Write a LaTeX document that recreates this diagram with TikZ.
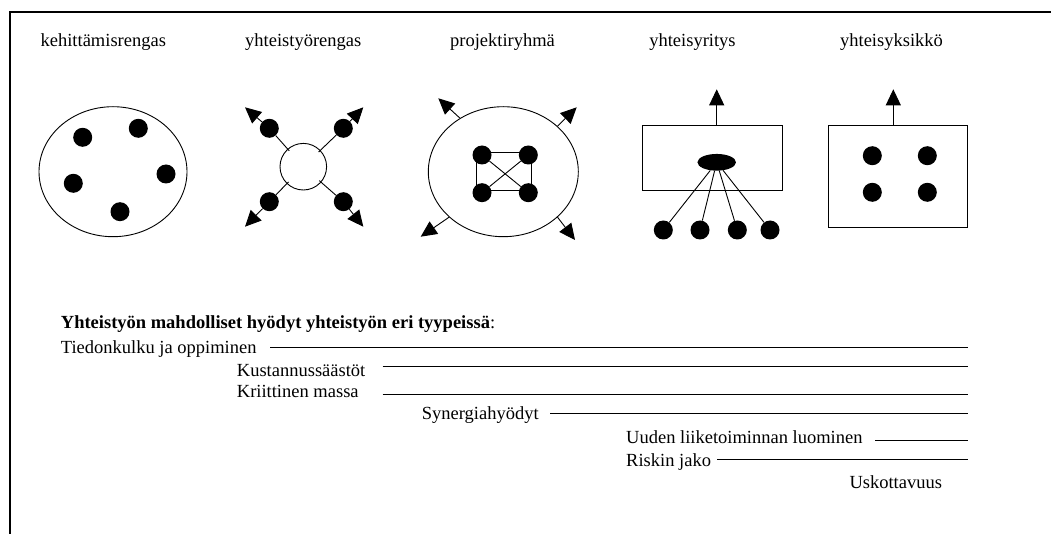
\documentclass[tikz,border=0pt]{standalone}
\usepackage{fontspec}
\setmainfont{Liberation Serif}
\usetikzlibrary{shapes.geometric,arrows.meta}

\begin{document}
\begin{tikzpicture}[x=1pt,y=-1pt,
  outline/.style={draw, line width=0.9pt},
  dot/.style={circle, fill=black, inner sep=0pt, minimum size=19pt},
  arr/.style={line width=0.9pt, -{Triangle[length=16pt,width=15pt]}},
  thin/.style={line width=0.9pt},
  title/.style={anchor=base, inner sep=0pt, font=\fontsize{18.5}{22}\selectfont},
  txt/.style={anchor=base west, inner sep=0pt, font=\fontsize{18.5}{22}\selectfont},
  rule/.style={line width=1.2pt}]
\useasboundingbox (0,0) rectangle (1051,534);

% frame (left and top edges)
\draw[line width=2pt] (9.5,534) -- (9.5,12.5) -- (1051,12.5);

% titles
\node[title] (t1) at (103.3,47) {kehittämisrengas};
\node[title] (t2) at (303.3,47) {yhteistyörengas};
\node[title] (t3) at (502.5,47) {projektiryhmä};
\node[title] (t4) at (692.5,47) {yhteisyritys};
\node[title] (t5) at (891.5,47) {yhteisyksikkö};

% 1: kehittämisrengas
\node[ellipse, outline, minimum width=148pt, minimum height=130pt] (e1) at (113,171.7) {};
\node[dot] (a1) at (82.7,137.3) {};
\node[dot] (a2) at (138.3,128.3) {};
\node[dot] (a3) at (166,174) {};
\node[dot] (a4) at (73.3,183.3) {};
\node[dot] (a5) at (120,211.7) {};

% 2: yhteistyörengas
\node[circle, outline, minimum size=46.6pt, inner sep=0pt] (ring) at (303.3,166.7) {};
\node[dot] (b1) at (269.3,128.3) {};
\node[dot] (b2) at (343.3,128.3) {};
\node[dot] (b3) at (269.3,201.7) {};
\node[dot] (b4) at (343.3,201.7) {};
\coordinate (bt1) at (245,107.3);
\coordinate (bt2) at (363.3,107.3);
\coordinate (bt3) at (245,226.7);
\coordinate (bt4) at (363.3,226.7);
\foreach \i in {1,...,4} {
  \draw[thin, shorten >=-2.5pt] (b\i) -- (ring);
  \draw[arr] (b\i) -- (bt\i);
}

% 3: projektiryhmä
\node[ellipse, outline, minimum width=150pt, minimum height=130pt] (e3) at (503.3,171.7) {};
\draw[thin] (476,152.7) rectangle (531,190);
\node[dot] (c1) at (482,155) {};
\node[dot] (c2) at (528.3,155) {};
\node[dot] (c3) at (482,192.7) {};
\node[dot] (c4) at (528.3,192.7) {};
\draw[thin] (c1) -- (c4);
\draw[thin] (c2) -- (c3);
\coordinate (ct1) at (438.3,98.3);
\coordinate (ct2) at (576.7,107.3);
\coordinate (ct3) at (420.7,236.7);
\coordinate (ct4) at (575,240);
\draw[arr] (e3.129.4) -- (ct1);
\draw[arr] (e3.40.2) -- (ct2);
\draw[arr] (e3.220.3) -- (ct3);
\draw[arr] (e3.320.2) -- (ct4);

% 4: yhteisyritys
\node[rectangle, outline, minimum width=139.6pt, minimum height=65pt, inner sep=0pt] (box4) at (712.5,157.5) {};
\node[ellipse, fill=black, inner sep=0pt, minimum width=38.5pt, minimum height=16.7pt] (oval) at (716.7,162.3) {};
\coordinate (up4) at (716.7,89.3);
\draw[arr] (oval |- box4.north) -- (up4);
\node[dot] (d1) at (663.3,230) {};
\node[dot] (d2) at (700,230) {};
\node[dot] (d3) at (737.3,230) {};
\node[dot] (d4) at (770,230) {};
\foreach \i in {1,...,4} \draw[thin] (oval) -- (d\i);

% 5: yhteisyksikkö
\node[rectangle, outline, minimum width=139.4pt, minimum height=102.3pt, inner sep=0pt] (box5) at (898,176.2) {};
\coordinate (up5) at (893.3,89.3);
\draw[arr] (up5 |- box5.north) -- (up5);
\node[dot] (f1) at (872.3,155.7) {};
\node[dot] (f2) at (927.3,155.7) {};
\node[dot] (f3) at (872.3,192.3) {};
\node[dot] (f4) at (927.3,192.3) {};

% benefits
\node[txt] (head) at (60.7,328.3) {\textbf{Yhteistyön mahdolliset hyödyt yhteistyön eri tyypeissä}:};
\node[txt] (g1) at (60.7,353.3) {Tiedonkulku ja oppiminen};
\node[txt] (g2) at (236.7,376) {Kustannussäästöt};
\node[txt] (g3) at (236.7,397.7) {Kriittinen massa};
\node[txt] (g4) at (421.7,419.5) {Synergiahyödyt};
\node[txt] (g5) at (626,443.3) {Uuden liiketoiminnan luominen};
\node[txt] (g6) at (626,466) {Riskin jako};
\node[txt] (g7) at (849.3,488.3) {Uskottavuus};

\coordinate (s1) at (270,347.5);   \coordinate (r1) at (967.7,347.5);
\coordinate (s2) at (382.7,366.7); \coordinate (r2) at (967.7,366.7);
\coordinate (s3) at (382.7,394.3); \coordinate (r3) at (967.7,394.3);
\coordinate (s4) at (550,413.3);   \coordinate (r4) at (967.7,413.3);
\coordinate (s5) at (875,440.7);   \coordinate (r5) at (967.7,440.7);
\coordinate (s6) at (717.3,459.3); \coordinate (r6) at (967.7,459.3);
\foreach \i in {1,...,6} \draw[rule] (s\i) -- (r\i);
\end{tikzpicture}
\end{document}
